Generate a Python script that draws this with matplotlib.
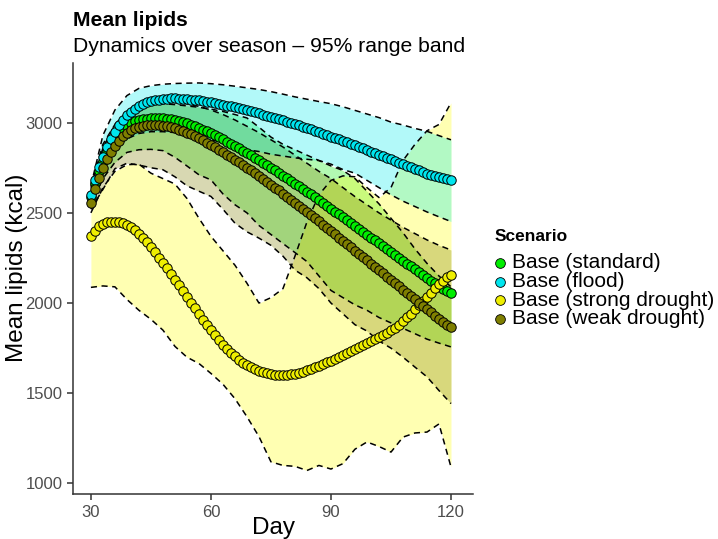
import matplotlib.pyplot as plt
import numpy as np

# mean lipids per day (days 30..120)
days = np.arange(30, 121)

standard = [2590, 2665, 2730, 2787, 2836, 2878, 2913, 2942, 2965, 2983,
            2997, 3007, 3014, 3019, 3022, 3024, 3025, 3025, 3024, 3022,
            3019, 3015, 3010, 3004, 2997, 2989, 2981, 2972, 2962, 2952,
            2941, 2930, 2919, 2907, 2895, 2883, 2871, 2858, 2845, 2832,
            2819, 2806, 2792, 2778, 2764, 2750, 2736, 2722, 2707, 2692,
            2677, 2662, 2647, 2632, 2617, 2602, 2587, 2571, 2555, 2539,
            2523, 2507, 2491, 2475, 2459, 2443, 2427, 2411, 2395, 2379,
            2363, 2347, 2331, 2315, 2299, 2283, 2267, 2251, 2235, 2219,
            2203, 2187, 2171, 2155, 2139, 2124, 2109, 2094, 2080, 2068,
            2058]
flood = [2600, 2682, 2752, 2812, 2864, 2910, 2950, 2985, 3015, 3040,
         3061, 3078, 3092, 3103, 3112, 3119, 3124, 3128, 3131, 3133,
         3134, 3134, 3133, 3132, 3130, 3128, 3126, 3123, 3120, 3117,
         3113, 3109, 3105, 3100, 3095, 3090, 3085, 3080, 3075, 3069,
         3063, 3057, 3051, 3045, 3039, 3033, 3026, 3020, 3013, 3006,
         2999, 2992, 2985, 2978, 2970, 2963, 2955, 2947, 2939, 2931,
         2923, 2915, 2907, 2899, 2891, 2883, 2874, 2866, 2857, 2849,
         2840, 2832, 2823, 2814, 2806, 2797, 2788, 2779, 2770, 2761,
         2752, 2744, 2735, 2726, 2718, 2712, 2706, 2700, 2694, 2688,
         2683]
strong = [2372, 2402, 2425, 2440, 2448, 2452, 2452, 2449, 2442, 2432,
          2419, 2403, 2384, 2362, 2338, 2311, 2282, 2252, 2222, 2192,
          2161, 2130, 2099, 2067, 2035, 2003, 1971, 1939, 1908, 1878,
          1849, 1821, 1794, 1769, 1746, 1724, 1704, 1686, 1670, 1656,
          1644, 1633, 1624, 1616, 1610, 1605, 1602, 1600, 1600, 1602,
          1605, 1609, 1614, 1620, 1627, 1635, 1643, 1652, 1661, 1671,
          1681, 1691, 1701, 1712, 1723, 1733, 1743, 1754, 1765, 1776,
          1787, 1799, 1811, 1823, 1836, 1849, 1863, 1877, 1900, 1920,
          1942, 1965, 1988, 2012, 2035, 2058, 2082, 2105, 2125, 2142,
          2157]
weak = [2557, 2630, 2693, 2748, 2796, 2837, 2872, 2901, 2925, 2944,
        2959, 2970, 2978, 2983, 2986, 2987, 2987, 2986, 2984, 2980,
        2975, 2969, 2962, 2954, 2945, 2935, 2925, 2914, 2902, 2890,
        2877, 2864, 2851, 2837, 2823, 2809, 2795, 2780, 2765, 2750,
        2735, 2720, 2704, 2688, 2672, 2656, 2640, 2624, 2607, 2590,
        2573, 2556, 2539, 2522, 2505, 2488, 2471, 2453, 2435, 2417,
        2399, 2381, 2363, 2345, 2327, 2309, 2291, 2273, 2255, 2237,
        2219, 2201, 2183, 2165, 2147, 2129, 2111, 2093, 2075, 2057,
        2039, 2021, 2003, 1985, 1967, 1949, 1931, 1913, 1895, 1877,
        1865]

# 95% range band, read every 3 days
band_days = np.arange(30, 121, 3)
standard_hi = [2640, 2880, 2990, 3050, 3085, 3100, 3105, 3100, 3093, 3085, 3075,
               3062, 3045, 3026, 2975, 2920, 2880, 2850, 2820, 2790, 2760,
               2735, 2690, 2620, 2550, 2470, 2390, 2300, 2220, 2150, 2090]
standard_lo = [2540, 2690, 2780, 2835, 2850, 2852, 2845, 2808, 2760, 2711, 2683,
               2605, 2545, 2500, 2430, 2380, 2330, 2280, 2230, 2150, 2070,
               2030, 1990, 1960, 1920, 1890, 1860, 1830, 1800, 1778, 1757]
flood_hi = [2650, 2930, 3070, 3150, 3190, 3205, 3213, 3217, 3219, 3220, 3216,
            3210, 3202, 3193, 3184, 3172, 3158, 3143, 3130, 3117, 3105,
            3088, 3068, 3048, 3028, 3003, 2987, 2968, 2952, 2928, 2905]
flood_lo = [2570, 2760, 2860, 2910, 2940, 2950, 2950, 2945, 2935, 2920, 2905,
            2890, 2870, 2850, 2840, 2825, 2815, 2805, 2797, 2790, 2770,
            2740, 2720, 2680, 2640, 2600, 2565, 2535, 2505, 2478, 2452]
strong_hi = [2500, 2640, 2730, 2767, 2770, 2720, 2690, 2660, 2580, 2470, 2370,
             2290, 2210, 2110, 2000, 2030, 2080, 2260, 2450, 2600, 2680,
             2705, 2700, 2640, 2585, 2640, 2790, 2880, 2955, 2990, 3110]
strong_lo = [2087, 2095, 2090, 2020, 1960, 1910, 1850, 1760, 1700, 1665, 1610,
             1550, 1470, 1370, 1260, 1120, 1100, 1095, 1072, 1100, 1080,
             1110, 1190, 1230, 1205, 1174, 1257, 1280, 1285, 1330, 1091]
weak_hi = [2600, 2860, 2990, 3060, 3100, 3115, 3120, 3115, 3105, 3090, 3070,
           3045, 3015, 2980, 2945, 2905, 2865, 2820, 2775, 2730, 2690,
           2640, 2590, 2545, 2500, 2460, 2420, 2385, 2350, 2320, 2294]
weak_lo = [2520, 2630, 2745, 2775, 2765, 2750, 2739, 2700, 2650, 2620, 2591,
           2520, 2443, 2395, 2360, 2320, 2260, 2183, 2140, 2080, 2000,
           1940, 1880, 1845, 1790, 1750, 1700, 1645, 1591, 1515, 1443]

labels = ['Base (standard)', 'Base (flood)', 'Base (strong drought)', 'Base (weak drought)']
colors = ['#00EE00', '#00EEEE', '#FFFF00', '#808000']
point_colors = ['#00EE00', '#00E5EE', '#EEEE00', '#7F7F00']
means = [standard, flood, strong, weak]
highs = [standard_hi, flood_hi, strong_hi, weak_hi]
lows = [standard_lo, flood_lo, strong_lo, weak_lo]

plt.rcParams['font.family'] = ['Liberation Sans', 'DejaVu Sans']

fig = plt.figure(figsize=(7.18, 5.39), dpi=100)
ax = fig.add_axes([72.7 / 718, 44.7 / 539, 400.3 / 718, 431 / 539])

# ribbons: fill then dashed outline; order picked so the overlaps tint like the original
for k in [0, 2, 3, 1]:
    ax.fill_between(band_days, lows[k], highs[k], color=colors[k], alpha=0.3, linewidth=0)
    ax.plot(band_days, highs[k], color='black', lw=1.1, ls=(0, (4, 3)))
    ax.plot(band_days, lows[k], color='black', lw=1.1, ls=(0, (4, 3)))

for m, c in zip(means, point_colors):
    ax.plot(days, m, color='black', lw=0.6, zorder=4)
    ax.plot(days, m, 'o', ms=6.8, mfc=c, mec='black', mew=0.7, zorder=5)

ax.set_xlim(25.45, 125.5)
ax.set_ylim(940, 3329)
ax.set_xticks([30, 60, 90, 120])
ax.set_yticks([1000, 1500, 2000, 2500, 3000])
for s in ['top', 'right']:
    ax.spines[s].set_visible(False)
for s in ['left', 'bottom']:
    ax.spines[s].set_color('#333333')
    ax.spines[s].set_linewidth(1.1)
ax.tick_params(colors='#333333', labelcolor='#4d4d4d', labelsize=12, length=4, width=1.1)

fig.text(274 / 718, 1 - 534 / 539, 'Day', fontsize=17.5, ha='center', va='baseline')
fig.text(17 / 718, 1 - 268 / 539, 'Mean lipids (kcal)', fontsize=17.5, rotation=90,
         ha='center', va='center')

fig.text(73 / 718, 1 - 20 / 539, 'Mean lipids', fontsize=15.2, fontweight='bold', va='center')
fig.text(73 / 718, 1 - 47 / 539, 'Dynamics over season \u2013 95% range band', fontsize=15.2, va='center')

# legend drawn by hand to match spacing
fig.text(495 / 718, 1 - 236 / 539, 'Scenario', fontsize=12.5, fontweight='bold', va='center')
for i, (lab, c) in enumerate(zip(labels, point_colors)):
    y = 1 - (263 + i * 18.5) / 539
    fig.lines.append(plt.Line2D([500 / 718], [y], marker='o', ms=7, mfc=c, mec='black',
                                mew=0.6, transform=fig.transFigure))
    fig.text(512 / 718, y, lab, fontsize=15, va='center')

fig.savefig('out.png', dpi=100)
